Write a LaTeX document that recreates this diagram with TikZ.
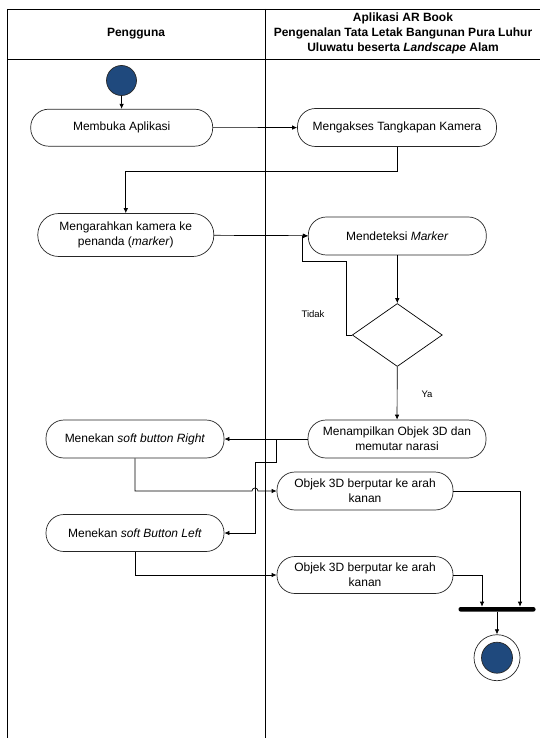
\documentclass[tikz,border=0pt]{standalone}
\usepackage{fontspec}
\setmainfont{Liberation Sans}
\usepackage{tikz}
\usetikzlibrary{arrows.meta, shapes.geometric}
\definecolor{birutua}{RGB}{31,73,125}
\tikzset{aktivitas/.style={draw=black!85, rounded corners=18pt, align=center, inner sep=0pt,
		minimum height=38pt, font=\fontsize{12}{15}\selectfont},
	titik/.style={circle, draw=black!85, fill=birutua, inner sep=0pt, minimum size=30pt},
	keputusan/.style={diamond, draw, inner sep=0pt, minimum width=90pt, minimum height=63pt},
	batang/.style={rectangle, fill=black, rounded corners=2pt, inner sep=0pt,
		minimum width=77pt, minimum height=4.5pt},
	label/.style={font=\fontsize{9.5}{11}\selectfont},
	judul/.style={align=center, font=\fontsize{12}{15}\selectfont\bfseries}}

\begin{document}
\begin{tikzpicture}[
		x = 1pt, y = -1pt, % pixel grid
		> = {Latex[length=5pt, width=4.5pt]}, % arrow head style
		line width = 0.7pt, % line style
	]
	\useasboundingbox (0,0) rectangle (540,738);
	% swimlanes
	\draw (7.5,9) -- (540,9);
	\draw (7.5,59) -- (540,59);
	\draw[line width=1.3pt] (7.5,9) -- (7.5,738);
	\draw (265,9) -- (265,738);
	\node[judul] (pengguna) at (136,34) {Pengguna};
	\node[judul] (aplikasi) at (403,33.5) {Aplikasi AR Book\\Pengenalan Tata Letak Bangunan Pura Luhur\\Uluwatu beserta \textit{Landscape} Alam};

	\node[titik] (mulai) at (121.5,80.5) {};
	\node[aktivitas, minimum width=182pt, minimum height=37pt] (membuka) at (121.7,127.7) {Membuka Aplikasi};
	\node[aktivitas, minimum width=199pt] (mengakses) at (397,127.5) {Mengakses Tangkapan Kamera};
	\node[aktivitas, minimum width=176pt, minimum height=43pt, rounded corners=21pt] (mengarahkan) at (125.8,235) {Mengarahkan kamera ke\\penanda (\textit{marker})};
	\node[aktivitas, minimum width=178pt] (mendeteksi) at (397.3,236) {Mendeteksi \textit{Marker}};
	\node[keputusan] (cek) at (397.3,335) {};
	\node[label] (tidak) at (313,314) {Tidak};
	\node[label] (ya) at (427,394) {Ya};
	\node[aktivitas, minimum width=178pt] (menampilkan) at (397,439) {Menampilkan Objek 3D dan\\memutar narasi};
	\node[aktivitas, minimum width=178pt] (kanan) at (135,439) {Menekan \textit{soft button Right}};
	\node[aktivitas, minimum width=178pt, minimum height=37pt] (kiri) at (135,533) {Menekan \textit{soft Button Left}};
	\node[aktivitas, minimum width=176pt] (objek1) at (365,491) {Objek 3D berputar ke arah\\kanan};
	\node[aktivitas, minimum width=176pt, minimum height=37pt] (objek2) at (365,575) {Objek 3D berputar ke arah\\kanan};
	\node[batang] (gabung) at (497,609.3) {};
	\node[circle, draw=black!85, inner sep=0pt, minimum size=46pt] (akhir) at (497,657.7) {};
	\node[titik, minimum size=31pt] (akhirisi) at (akhir) {};

	\coordinate (tidakA) at (346,261);
	\coordinate (cabang) at (276,439);
	\coordinate (lompat) at (252,491);

	\draw[->] (mulai) to (membuka);
	\draw[->] (membuka) to (mengakses);
	\draw[->] (mengakses.south) -- ++(0,25) -| (mengarahkan.north);
	\draw[->] (mengarahkan) to (mendeteksi);
	\draw[->] (mendeteksi) to (cek);
	\draw[->] (cek.west) -| (tidakA) -| ([xshift=-6pt]mendeteksi.west) -- (mendeteksi.west);
	\draw[->] (cek) to (menampilkan);
	\draw[->] (menampilkan) to (kanan);
	\draw[->] (cabang) -- ++(0,23) -- ++(-21,0) |- (kiri.east);
	\draw[->] (kanan.south) |- (lompat) arc[start angle=180, end angle=0, radius=3pt] -- (objek1.west);
	\draw[->] (kiri.south) |- (objek2.west);
	\draw[->] (objek1.east) -| ([xshift=23pt]gabung.north);
	\draw[->] (objek2.east) -| ([xshift=-15pt]gabung.north);
	\draw[->] (gabung) to (akhir);
\end{tikzpicture}
\end{document}
